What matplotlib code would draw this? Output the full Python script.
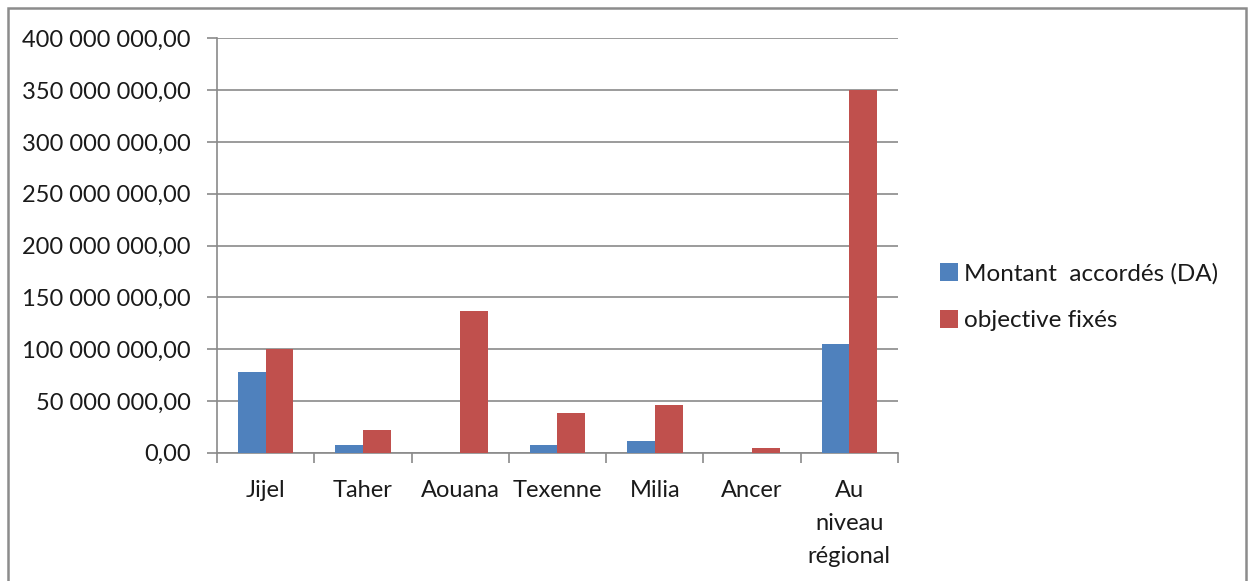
import matplotlib
matplotlib.use("Agg")
import matplotlib.pyplot as plt
import matplotlib.ticker as mticker
import matplotlib.patches as mpatches
import numpy as np

categories = ["Jijel", "Taher", "Aouana", "Texenne", "Milia", "Ancer", "Au\nniveau\nrégional"]
montant = [77.5e6, 7.1e6, 0, 7.1e6, 11.6e6, 0, 104.5e6]
objectif = [100e6, 21.6e6, 136.6e6, 38e6, 46.3e6, 4.2e6, 350.4e6]
series_labels = ["Montant  accordés (DA)", "objective fixés"]

BLUE = "#4F81BD"
RED = "#C0504D"
GRID = "#8a8a8a"
TEXT = "#1a1a1a"
W, H = 1250, 581
FS = 17

plt.rcParams["font.family"] = ["Lato", "DejaVu Sans"]

fig = plt.figure(figsize=(W / 100, H / 100), dpi=100)
ax = fig.add_axes([217 / W, 1 - 452.7 / H, (898 - 217) / W, (452.7 - 38.3) / H])

x = np.arange(len(categories))
w = 1 / 3.5
ax.bar(x - w / 2, montant, w, color=BLUE, label=series_labels[0], zorder=3)
ax.bar(x + w / 2, objectif, w, color=RED, label=series_labels[1], zorder=3)

ax.set_xlim(-0.5, len(categories) - 0.5)
ax.set_ylim(0, 400e6)
ax.yaxis.set_major_locator(mticker.MultipleLocator(50e6))


def fmt(v, pos):
    return f"{v:,.2f}".replace(",", " ").replace(".", ",")


ax.yaxis.set_major_formatter(mticker.FuncFormatter(fmt))
ax.grid(axis="y", color=GRID, lw=1.2, zorder=0)
ax.set_axisbelow(True)

ax.set_xticks(x)
ax.set_xticklabels(categories, linespacing=1.68)
ax.set_xticks(np.arange(-0.5, len(categories)), minor=True)
ax.tick_params(axis="x", which="major", length=0, pad=20, labelsize=FS, labelcolor=TEXT)
ax.tick_params(axis="x", which="minor", length=7, width=1.2, color=GRID)
ax.tick_params(axis="y", length=7, width=1.2, color=GRID, pad=12, labelsize=FS, labelcolor=TEXT)

ax.spines[["top", "right"]].set_visible(False)
for s in ["left", "bottom"]:
    ax.spines[s].set_color(GRID)
    ax.spines[s].set_linewidth(1.2)

fig.legend(loc="center left", bbox_to_anchor=(918 / W, 1 - 297 / H), frameon=False,
           fontsize=17.5, handlelength=0.75, handleheight=0.75, handletextpad=0.25,
           labelspacing=1.05, labelcolor=TEXT)

fig.patches.append(mpatches.Rectangle((8 / W, -0.1), (1246 - 8) / W, 1.1 - 8 / H,
                                      transform=fig.transFigure, fill=False,
                                      edgecolor="#8c8c8c", lw=1.8))

fig.savefig("out.png", dpi=100, facecolor="white")
